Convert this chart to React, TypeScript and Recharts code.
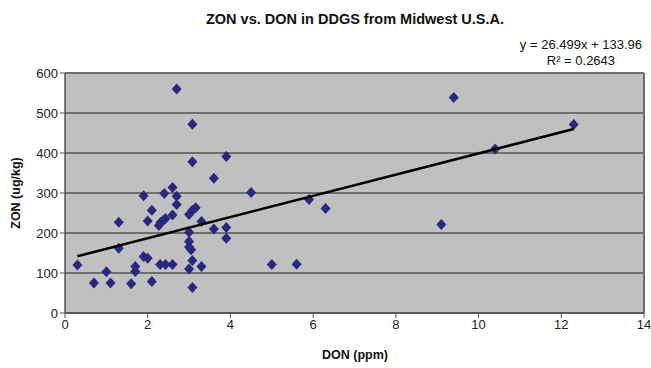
import React from 'react';
import { ScatterChart, Scatter, XAxis, YAxis, CartesianGrid, ReferenceLine } from 'recharts';

const donPpm = [0.3, 0.7, 1.0, 1.1, 1.3, 1.3, 1.6, 1.7, 1.7, 1.9, 1.9, 2.0, 2.0, 2.1, 2.1, 2.3, 2.27, 2.31, 2.38, 2.43, 2.43, 2.4, 2.6, 2.6, 2.6, 2.7, 2.7, 2.7, 3.0, 3.0, 3.0, 3.0, 3.05, 3.0, 3.08, 3.08, 3.08, 3.16, 3.08, 3.08, 3.3, 3.3, 3.6, 3.6, 3.9, 3.9, 3.9, 4.5, 5.0, 5.6, 5.9, 6.3, 9.1, 9.4, 10.4, 12.3];
const zonUgKg = [120, 75, 103, 75, 227, 162, 73, 116, 104, 293, 141, 137, 230, 257, 79, 121, 219, 226, 232, 236, 121, 299, 314, 245, 121, 292, 271, 560, 246, 202, 179, 165, 158, 110, 131, 64, 257, 263, 472, 378, 229, 116, 210, 337, 214, 187, 391, 301, 121, 122, 284, 261, 221, 539, 410, 471];
const slope = 26.499;
const intercept = 133.96;
const trendX = [0.3, 12.3];
const xTicks = [0, 2, 4, 6, 8, 10, 12, 14];
const yTicks = [0, 100, 200, 300, 400, 500, 600];

const points = donPpm.map((x, i) => ({ x, y: zonUgKg[i] }));
const trend = trendX.map((x) => ({ x, y: slope * x + intercept }));

const Diamond = (props: any) => {
  const { cx, cy } = props;
  if (cx == null || cy == null) return null;
  const w = 5;
  const h = 5.5;
  return (
    <polygon
      points={`${cx},${cy - h} ${cx + w},${cy} ${cx},${cy + h} ${cx - w},${cy}`}
      fill="#28287f"
    />
  );
};

const font = '"Liberation Sans", Arial, sans-serif';

export default function App() {
  return (
    <div style={{ position: 'absolute', left: 0, top: 0, width: 651, height: 368, background: '#fff', fontFamily: font }}>
      <ScatterChart width={651} height={368} margin={{ top: 73, right: 7, bottom: 15, left: 10 }}>
        <CartesianGrid vertical={false} fill="#c0c0c0" stroke="#6e6e6e" strokeWidth={2} />
        <XAxis
          type="number"
          dataKey="x"
          domain={[0, 14]}
          ticks={xTicks}
          height={40}
          tickSize={5}
          stroke="#555"
          tick={{ fill: '#222', fontSize: 13, fontFamily: font }}
          axisLine={{ stroke: '#555', strokeWidth: 1.5 }}
          tickLine={{ stroke: '#555' }}
        />
        <YAxis
          type="number"
          dataKey="y"
          domain={[0, 600]}
          ticks={yTicks}
          width={55}
          tickSize={5}
          tick={{ fill: '#222', fontSize: 13, fontFamily: font }}
          axisLine={{ stroke: '#555', strokeWidth: 1.5 }}
          tickLine={{ stroke: '#555' }}
        />
        <ReferenceLine x={14} stroke="#6e6e6e" strokeWidth={2} />
        <Scatter data={points} shape={<Diamond />} isAnimationActive={false} />
        <Scatter
          data={trend}
          line={{ stroke: '#000', strokeWidth: 2.5 }}
          shape={() => null}
          isAnimationActive={false}
        />
      </ScatterChart>
      <div style={{ position: 'absolute', left: 0, width: 710, top: 11, textAlign: 'center', fontWeight: 'bold', fontSize: 14.5, color: '#111' }}>
        ZON vs. DON in DDGS from Midwest U.S.A.
      </div>
      <div style={{ position: 'absolute', right: 9, top: 37, fontSize: 13, color: '#111', textAlign: 'center', lineHeight: '16px' }}>
        <div>y = 26.499x + 133.96</div>
        <div>R² = 0.2643</div>
      </div>
      <div style={{ position: 'absolute', left: 0, width: 710, top: 348, textAlign: 'center', fontWeight: 'bold', fontSize: 12.5, color: '#111' }}>
        DON (ppm)
      </div>
      <div
        style={{
          position: 'absolute',
          left: 16,
          top: 193,
          fontWeight: 'bold',
          fontSize: 12.5,
          color: '#111',
          whiteSpace: 'nowrap',
          transform: 'translate(-50%, -50%) rotate(-90deg)',
        }}
      >
        ZON (ug/kg)
      </div>
    </div>
  );
}
